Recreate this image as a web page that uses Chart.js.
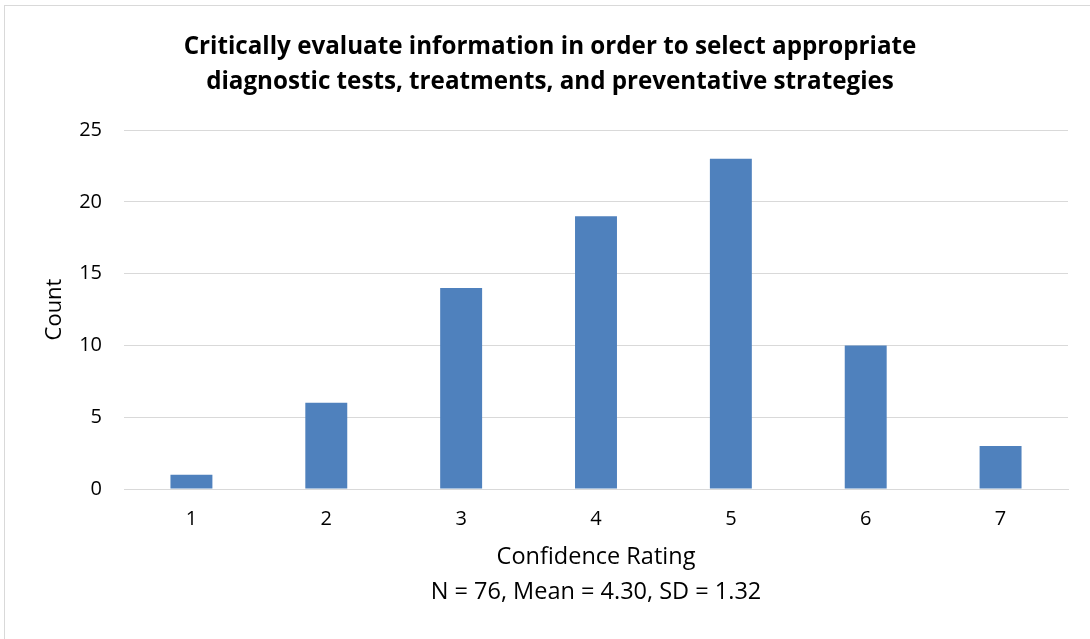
<!DOCTYPE html>
<html>
<head>
<meta charset="utf-8">
<script src="https://cdn.jsdelivr.net/npm/chart.js@4"></script>
<style>
html,body{margin:0;padding:0;background:#fff;}
#wrap{position:absolute;left:0;top:0;width:1090px;height:639px;}
</style>
</head>
<body>
<div id="wrap"><canvas id="c" width="1090" height="639"></canvas></div>
<script>
const categories = ['1', '2', '3', '4', '5', '6', '7'];
const counts = [1, 6, 14, 19, 23, 10, 3];
const yTicks = [0, 5, 10, 15, 20, 25];
const titleLines = ['Critically evaluate information in order to select appropriate', 'diagnostic tests, treatments, and preventative strategies'];
const xTitleLines = ['Confidence Rating', 'N = 76, Mean = 4.30, SD = 1.32'];
const yTitle = 'Count';

const FONT = "'Open Sans', 'DejaVu Sans', sans-serif";

const borderPlugin = {
  id: 'outerBorder',
  beforeDraw(chart) {
    const ctx = chart.ctx;
    ctx.save();
    ctx.fillStyle = '#ffffff';
    ctx.fillRect(0, 0, chart.width, chart.height);
    ctx.strokeStyle = '#d9d9d9';
    ctx.lineWidth = 1;
    ctx.strokeRect(4.5, 5.5, 1200, 800);
    ctx.restore();
  }
};

new Chart(document.getElementById('c'), {
  type: 'bar',
  data: {
    labels: categories,
    datasets: [{
      data: counts,
      backgroundColor: '#4f81bd',
      borderWidth: 0,
      barPercentage: 0.311,
      categoryPercentage: 1.0
    }]
  },
  plugins: [borderPlugin],
  options: {
    responsive: false,
    animation: false,
    layout: { padding: { left: 32, right: 22, top: 0, bottom: 0 } },
    plugins: {
      legend: { display: false },
      tooltip: { enabled: false },
      title: {
        display: true,
        text: titleLines,
        color: '#000000',
        font: { family: FONT, size: 24.2, weight: 'bold', lineHeight: '35px' },
        padding: { top: 30, bottom: 30 }
      }
    },
    scales: {
      x: {
        grid: { display: false, drawTicks: false },
        border: { display: true, color: '#d9d9d9', width: 1 },
        ticks: { color: '#000000', font: { family: FONT, size: 20 }, padding: 18 },
        title: {
          display: true,
          text: xTitleLines,
          color: '#000000',
          font: { family: FONT, size: 23.5, lineHeight: '35px' },
          padding: { top: 0, bottom: 29 }
        },
        afterFit(scale) { scale.height = 150; }
      },
      y: {
        min: 0,
        max: 25,
        afterBuildTicks(scale) { scale.ticks = yTicks.map(v => ({ value: v })); },
        grid: { color: '#d9d9d9', lineWidth: 1, drawTicks: false },
        border: { display: false },
        ticks: { color: '#000000', font: { family: FONT, size: 20 }, padding: 22 },
        title: {
          display: true,
          text: yTitle,
          color: '#000000',
          font: { family: FONT, size: 22, lineHeight: '26px' },
          padding: { top: 10, bottom: 0 }
        },
        afterFit(scale) { scale.width = 92; }
      }
    }
  }
});
</script>
</body>
</html>
